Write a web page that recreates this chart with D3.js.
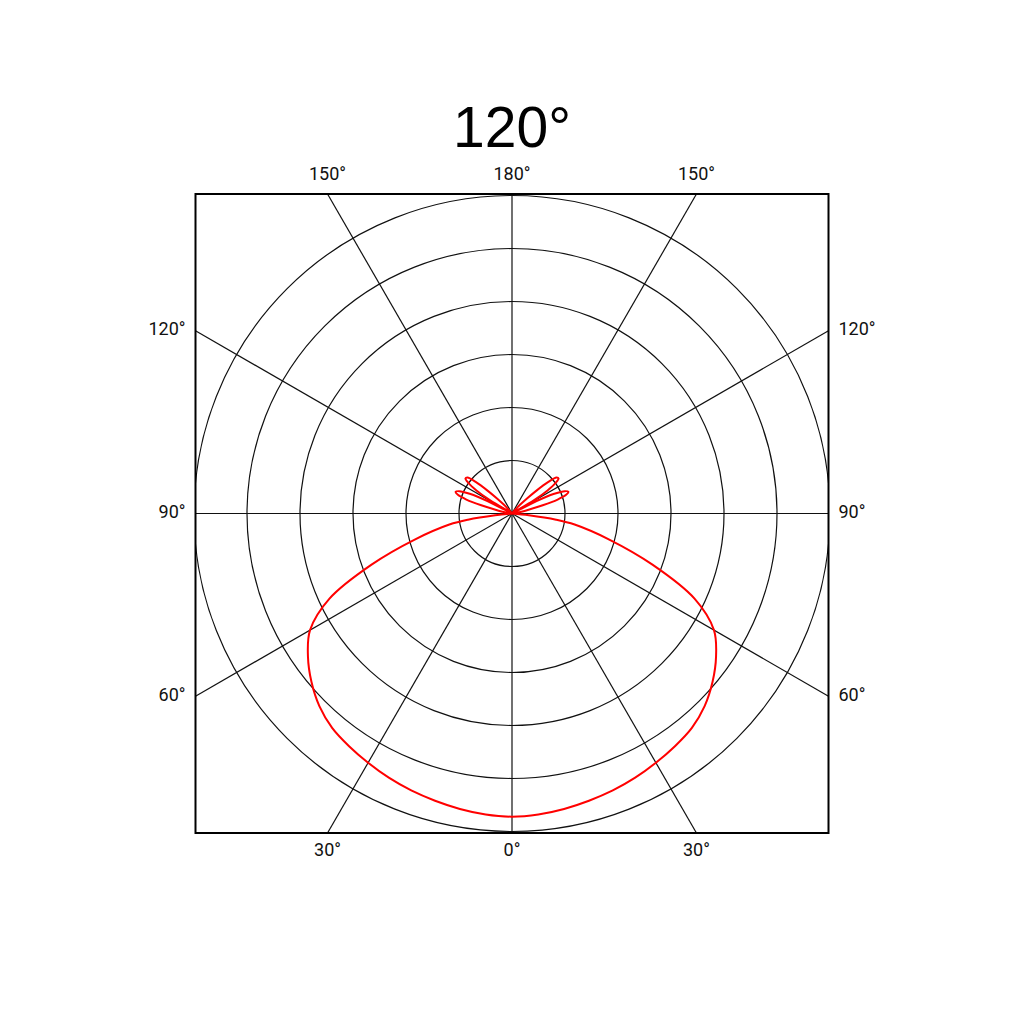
<!DOCTYPE html>
<html>
<head>
<meta charset="utf-8">
<script src="https://cdn.jsdelivr.net/npm/d3@7"></script>
<style>
    body { margin: 0; background: #fff; }
    .ring, .spoke { fill: none; stroke: #111; stroke-width: 1.2; }
    .frame { fill: none; stroke: #000; stroke-width: 2; }
    .curve { fill: none; stroke: #ff0000; stroke-width: 2; }
    .tick { font-family: Roboto, "Liberation Sans", sans-serif; font-size: 18px; fill: #111; }
    .title { font-family: "Liberation Sans", Arial, sans-serif; font-size: 57px; fill: #000; }
</style>
</head>
<body>
<div id="chart"></div>
<script>
// beam angle shown as title
var title = "120°";

// polar angles (deg, 0 = straight down) and intensity
var angles = [0, 5, 10, 15, 20, 25, 30, 35, 40, 45, 50, 55, 60, 65, 70, 75, 80, 82, 84, 86, 90,
    96, 100, 103, 105, 107, 109, 111, 113, 115, 117, 119,
    121, 123, 125, 127, 129, 131, 133, 135, 138, 142, 150, 165, 180];
var intensity = [286, 285, 283, 280.5, 278, 275, 271.5, 268, 264, 257, 247, 235, 220, 190, 141, 95, 60, 42, 16, 0, 0,
    0, 6, 16, 30, 45, 54, 57, 54, 44, 26, 0,
    24, 40, 50, 55, 54, 45, 32, 20, 9, 0, 0, 0, 0];

// grid
var ringValues = [50, 100, 150, 200, 250, 300];
var spokeAngles = [0, 30, 60, 90, 120, 150, 180];

function init() {
    const w = 1024;
    const h = 1024;
    const cx = 512;
    const cy = 513.5;
    const halfW = 316.5;
    const halfH = 319.5;

    var svg = d3.select("#chart").append("svg").attr("width", w).attr("height", h);

    var rScale = d3.scaleLinear().domain([0, 300]).range([0, 318]);

    svg.append("clipPath").attr("id", "box")
        .append("rect")
        .attr("x", cx - halfW).attr("y", cy - halfH)
        .attr("width", 2 * halfW).attr("height", 2 * halfH);

    var g = svg.append("g").attr("transform", "translate(" + cx + "," + cy + ")");
    var grid = g.append("g").attr("clip-path", "url(#box)")
        .attr("transform", "translate(" + (-cx) + "," + (-cy) + ")")
        .append("g").attr("transform", "translate(" + cx + "," + cy + ")");

    // rings
    grid.selectAll(".ring").data(ringValues).enter()
        .append("circle").attr("class", "ring")
        .attr("r", (d) => { return rScale(d); });

    // where a spoke meets the frame, for both sides
    function edgePoint(deg, side) {
        var t = deg * Math.PI / 180;
        var sx = Math.sin(t) * side, sy = Math.cos(t);
        var k = Math.min(Math.abs(sx) > 1e-9 ? halfW / Math.abs(sx) : Infinity,
                         Math.abs(sy) > 1e-9 ? halfH / Math.abs(sy) : Infinity);
        return { x: sx * k, y: sy * k };
    }

    var spokes = [];
    spokeAngles.forEach((a) => {
        spokes.push({ a: a, side: 1 });
        if (a > 0 && a < 180) spokes.push({ a: a, side: -1 });
    });

    grid.selectAll(".spoke").data(spokes).enter()
        .append("line").attr("class", "spoke")
        .attr("x1", 0).attr("y1", 0)
        .attr("x2", (d) => { return edgePoint(d.a, d.side).x; })
        .attr("y2", (d) => { return edgePoint(d.a, d.side).y; });

    // frame
    g.append("rect").attr("class", "frame")
        .attr("x", -halfW).attr("y", -halfH)
        .attr("width", 2 * halfW).attr("height", 2 * halfH);

    // angle labels outside the frame
    g.selectAll(".tick").data(spokes).enter()
        .append("text").attr("class", "tick")
        .each(function (d) {
            var p = edgePoint(d.a, d.side);
            var t = d3.select(this).text(d.a + "°");
            if (Math.abs(p.y) >= halfH - 0.01) {
                t.attr("x", p.x).attr("text-anchor", "middle")
                    .attr("y", p.y > 0 ? halfH + 23 : -halfH - 14);
            } else {
                t.attr("y", p.y - 2).attr("dy", "0.35em")
                    .attr("x", p.x > 0 ? halfW + 10 : -halfW - 10)
                    .attr("text-anchor", p.x > 0 ? "start" : "end");
            }
        });

    // intensity curve, mirrored to the left half
    var pts = [];
    for (var i = angles.length - 1; i > 0; i--) pts.push({ a: -angles[i], v: intensity[i] });
    for (var j = 0; j < angles.length; j++) pts.push({ a: angles[j], v: intensity[j] });

    var line = d3.lineRadial()
        .angle((d) => { return Math.PI - d.a * Math.PI / 180; })
        .radius((d) => { return rScale(d.v); })
        .curve(d3.curveCatmullRom.alpha(0.5));

    g.append("path").datum(pts).attr("class", "curve").attr("d", line);

    // title
    svg.append("text").attr("class", "title")
        .attr("x", cx).attr("y", 147)
        .attr("text-anchor", "middle")
        .text(title);
}

window.onload = init();
</script>
</body>
</html>
